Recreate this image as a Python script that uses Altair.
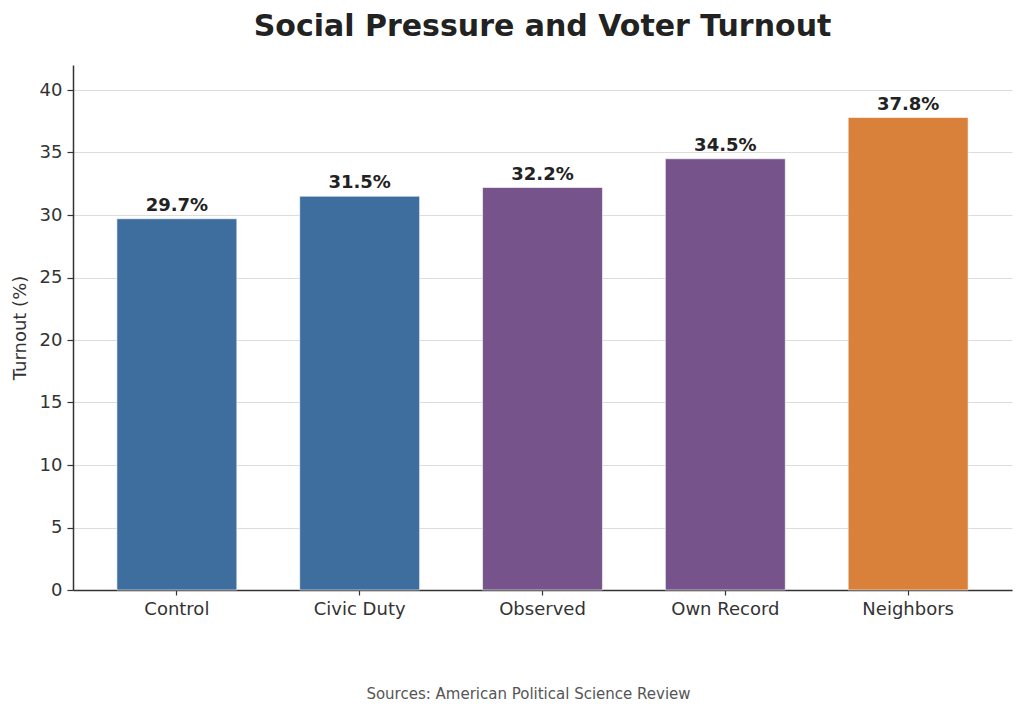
import altair as alt
import pandas as pd

chart_title = ["Social Pressure and Voter Turnout"]
categories = ["Control", "Civic Duty", "Observed", "Own Record", "Neighbors"]
turnout = [29.7, 31.5, 32.2, 34.5, 37.8]
groups = ["base", "base", "mid", "mid", "top"]
labels = ["29.7%", "31.5%", "32.2%", "34.5%", "37.8%"]

group_domain = ["base", "mid", "top"]
group_colors = ["#3d6e9e", "#76548b", "#d9803a"]

df = pd.DataFrame({"category": categories, "turnout": turnout,
                   "group": groups, "label": labels})
title_df = pd.DataFrame({"t": chart_title})

FONT = "DejaVu Sans"
W, H = 939, 525

x = alt.X("category:N", sort=categories,
          scale=alt.Scale(paddingInner=0.344, paddingOuter=0.24),
          axis=alt.Axis(title="Sources: American Political Science Review",
                        titleFontSize=15, titleFontWeight="normal",
                        titleColor="#555555", titleFont=FONT,
                        titleX=455, titleY=108, titleBaseline="alphabetic",
                        labelAngle=0, labelFontSize=18, labelColor="#333333",
                        labelFont=FONT, labelPadding=5,
                        tickSize=5, tickColor="#333333", tickWidth=1.2,
                        domainColor="#333333", domainWidth=1.5, grid=False))
y = alt.Y("turnout:Q",
          scale=alt.Scale(domain=[0, 42], nice=False),
          axis=alt.Axis(title="Turnout (%)", titleFontSize=18,
                        titleFontWeight="normal", titleColor="#333333",
                        titleFont=FONT, titlePadding=10,
                        values=[0, 5, 10, 15, 20, 25, 30, 35, 40],
                        labelFontSize=18, labelColor="#333333", labelFont=FONT,
                        labelPadding=5, tickSize=6, tickColor="#333333",
                        tickWidth=1.2, domainColor="#333333", domainWidth=1.5,
                        grid=True, gridColor="#dddddd", gridWidth=1))

bars = alt.Chart(df).mark_bar(stroke="white", strokeWidth=0.6).encode(
    x=x, y=y,
    color=alt.Color("group:N", scale=alt.Scale(domain=group_domain, range=group_colors),
                    legend=None),
)

text = alt.Chart(df).mark_text(font=FONT, fontSize=18, fontWeight="bold",
                               color="#222222", baseline="alphabetic", dy=-8).encode(
    x=alt.X("category:N", sort=categories),
    y="turnout:Q",
    text="label:N",
)

title_mark = alt.Chart(title_df).mark_text(
    font=FONT, fontSize=30, fontWeight="bold", color="#222222",
    align="center", baseline="alphabetic").encode(
    x=alt.value(W / 2), y=alt.value(-29), text="t:N")

chart = alt.layer(bars, text, title_mark).properties(
    width=W, height=H,
    padding={"left": 65, "top": 57, "right": 4, "bottom": 122},
    autosize=alt.AutoSizeParams(type="none"),
).configure(font=FONT, view=alt.ViewConfig(stroke=None, strokeWidth=0))

chart.save("out.html", embed_options={"renderer": "svg", "actions": False})
